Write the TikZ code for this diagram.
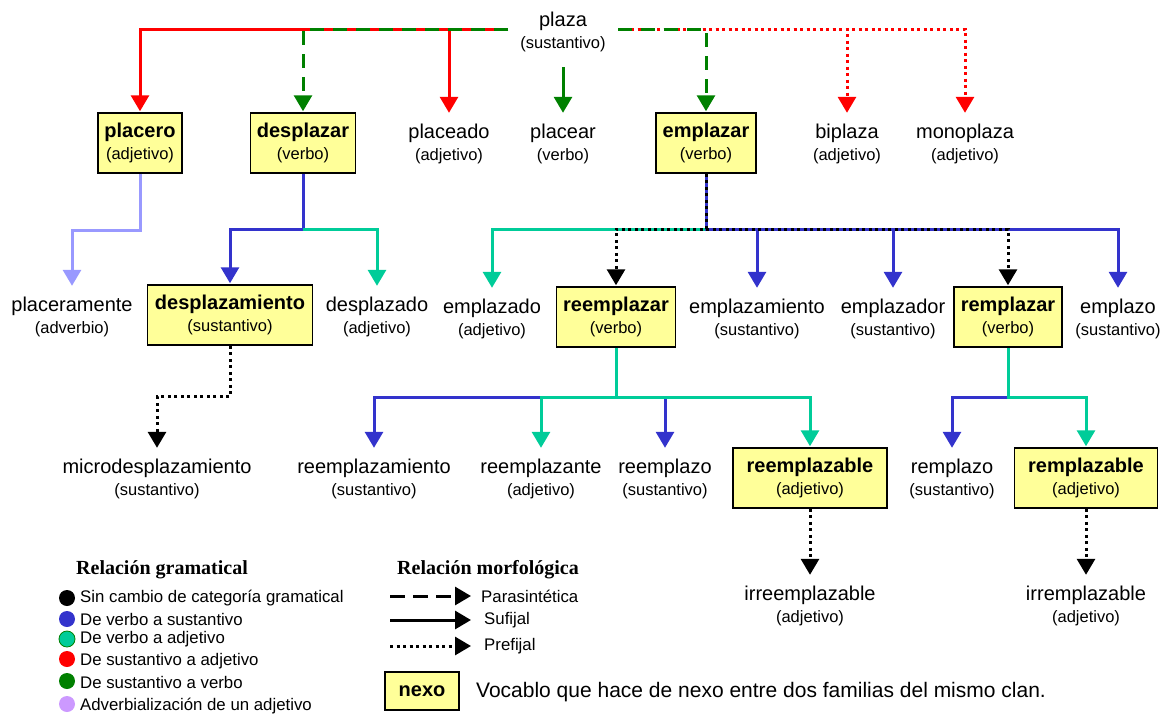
\documentclass[tikz,border=0pt]{standalone}
\usepackage{fontspec}
\setmainfont{Liberation Sans}
\newfontfamily\titlefont{Liberation Serif}
\usetikzlibrary{arrows.meta}
\definecolor{rojo}{HTML}{FF0000}
\definecolor{verde}{HTML}{008000}
\definecolor{azul}{HTML}{3333CC}
\definecolor{turq}{HTML}{00CC99}
\definecolor{lila}{HTML}{9999FF}
\definecolor{lilapunto}{HTML}{CC99FF}
\definecolor{amarillo}{HTML}{FFFF99}
\newcommand{\cat}[1]{{\normalfont\fontsize{16.5}{22}\selectfont(#1)}}
\tikzset{
  palabra/.style={align=center, font=\fontsize{20}{22}\selectfont, minimum height=60pt, inner xsep=6pt, inner ysep=2pt},
  nexo/.style={palabra, draw, line width=1.5pt, fill=amarillo, font=\fontsize{20}{22}\selectfont\bfseries},
  flecha/.style={line width=3pt, -{Triangle[width=18pt,length=16pt]}, shorten >=1pt},
  sufijal/.style={flecha},
  parasint/.style={flecha, dash pattern=on 14pt off 9pt},
  prefijal/.style={flecha, dash pattern=on 3pt off 3.5pt},
  titulo/.style={font=\titlefont\bfseries\fontsize{20}{24}\selectfont},
  leyenda/.style={anchor=west, inner xsep=0pt, font=\fontsize{16.8}{20}\selectfont},
  punto/.style={circle, minimum size=16pt, inner sep=0pt}
}
\begin{document}
\begin{tikzpicture}[x=1pt, y=-1pt]
\useasboundingbox (0,0) rectangle (1164,715);
\node [palabra] (plaza) at (563,32) {plaza\\\cat{sustantivo}};
\coordinate (izq) at (508,29);
\coordinate (der) at (618,29);

\node [nexo, minimum width=84pt] (placero) at (140,143) {placero\\\cat{adjetivo}};
\node [nexo, minimum width=105pt] (desplazar) at (303,143) {desplazar\\\cat{verbo}};
\node [palabra] (placeado) at (449,144) {placeado\\\cat{adjetivo}};
\node [palabra] (placear) at (563,144) {placear\\\cat{verbo}};
\node [nexo, minimum width=100pt] (emplazar) at (706,143) {emplazar\\\cat{verbo}};
\node [palabra] (biplaza) at (847,144) {biplaza\\\cat{adjetivo}};
\node [palabra] (monoplaza) at (965,144) {monoplaza\\\cat{adjetivo}};

\node [palabra] (placeramente) at (72,317) {placeramente\\\cat{adverbio}};
\node [nexo, minimum width=165pt] (desplazamiento) at (230,315) {desplazamiento\\\cat{sustantivo}};
\node [palabra] (desplazado) at (377,317) {desplazado\\\cat{adjetivo}};
\node [palabra] (emplazado) at (492,319) {emplazado\\\cat{adjetivo}};
\node [nexo, minimum width=119pt] (reemplazar) at (616,317) {reemplazar\\\cat{verbo}};
\node [palabra] (emplazamiento) at (757,319) {emplazamiento\\\cat{sustantivo}};
\node [palabra] (emplazador) at (893,319) {emplazador\\\cat{sustantivo}};
\node [nexo, minimum width=108pt] (remplazar) at (1008,317) {remplazar\\\cat{verbo}};
\node [palabra] (emplazo) at (1118,319) {emplazo\\\cat{sustantivo}};
\coordinate (desJ) at (303,229);
\coordinate (emJ) at (706,229);

\node [palabra] (microdesplazamiento) at (157,479) {microdesplazamiento\\\cat{sustantivo}};
\node [palabra] (reemplazamiento) at (374,479) {reemplazamiento\\\cat{sustantivo}};
\node [palabra] (reemplazante) at (541,479) {reemplazante\\\cat{adjetivo}};
\node [palabra] (reemplazo) at (665,479) {reemplazo\\\cat{sustantivo}};
\node [nexo, minimum width=154pt] (reemplazable) at (810,478) {reemplazable\\\cat{adjetivo}};
\node [palabra] (remplazo) at (952,479) {remplazo\\\cat{sustantivo}};
\node [nexo, minimum width=143pt] (remplazable) at (1086,478) {remplazable\\\cat{adjetivo}};
\coordinate (reJ) at (616,397);
\coordinate (rmJ) at (1008,397);

\node [palabra] (irreemplazable) at (810,606) {irreemplazable\\\cat{adjetivo}};
\node [palabra] (irremplazable) at (1086,606) {irremplazable\\\cat{adjetivo}};

\draw [sufijal, rojo] (izq) -| (placero.north);
\draw [sufijal, rojo] (izq) -| (placeado.north);
\draw [parasint, verde] (izq) -| (desplazar.north);
\draw [sufijal, verde, shorten <=5pt] (plaza.south) -- (placear.north);
\draw [prefijal, rojo] (der) -| (biplaza.north);
\draw [prefijal, rojo] (der) -| (monoplaza.north);
\draw [parasint, verde] (der) -| (emplazar.north);

\draw [sufijal, lila] (placero.south) -- ++(0,57) -| (placeramente.north);
\draw [sufijal, azul] (desplazar.south) -- (desJ) -| (desplazamiento.north);
\draw [sufijal, turq] (desJ) -| (desplazado.north);
\draw [sufijal, turq] (emJ) -| (emplazado.north);
\draw [sufijal, azul] (emplazar.south) -- (emJ) -| (emplazamiento.north);
\draw [sufijal, azul] (emJ) -| (emplazador.north);
\draw [sufijal, azul] (emJ) -| (emplazo.north);
\draw [prefijal] (emplazar.south) -- (emJ) -| (reemplazar.north);
\draw [prefijal] (emJ) -| (remplazar.north);

\draw [prefijal] (desplazamiento.south) -- ++(0,51) -| (microdesplazamiento.north);
\draw [sufijal, azul] (reJ) -| (reemplazamiento.north);
\draw [sufijal, azul] (reJ) -| (reemplazo.north);
\draw [sufijal, turq] (reemplazar.south) -- (reJ) -| (reemplazante.north);
\draw [sufijal, turq] (reJ) -| (reemplazable.north);
\draw [sufijal, azul] (rmJ) -| (remplazo.north);
\draw [sufijal, turq] (remplazar.south) -- (rmJ) -| (remplazable.north);

\draw [prefijal] (reemplazable) -- (irreemplazable);
\draw [prefijal] (remplazable) -- (irremplazable);

\node [titulo] (gramatical) at (162,570) {Relación gramatical};
\node [punto, fill=black] (p1) at (67,598) {};
\node [leyenda] (t1) at (80,598) {Sin cambio de categoría gramatical};
\node [punto, fill=azul] (p2) at (67,619) {};
\node [leyenda] (t2) at (80,619) {De verbo a sustantivo};
\node [punto, fill=turq, draw=verde, line width=0.8pt] (p3) at (67,639) {};
\node [leyenda] (t3) at (80,639) {De verbo a adjetivo};
\node [punto, fill=rojo] (p4) at (67,659) {};
\node [leyenda] (t4) at (80,661) {De sustantivo a adjetivo};
\node [punto, fill=verde] (p5) at (67,681) {};
\node [leyenda] (t5) at (80,682) {De sustantivo a verbo};
\node [punto, fill=lilapunto] (p6) at (67,704) {};
\node [leyenda] (t6) at (80,706) {Adverbialización de un adjetivo};

\node [titulo] (morfologica) at (488,570) {Relación morfológica};
\coordinate (m1) at (390,596);
\coordinate (m2) at (390,620);
\coordinate (m3) at (390,646);
\node [leyenda] (parasintetica) at (481,596) {Parasintética};
\node [leyenda] (sufijo) at (484,620) {Sufijal};
\node [leyenda] (prefijo) at (484,646) {Prefijal};
\draw [parasint, dash pattern=on 15pt off 8pt, shorten >=10pt] (m1) -- (parasintetica.west);
\draw [sufijal, shorten >=13pt] (m2) -- (sufijo.west);
\draw [prefijal, shorten >=13pt] (m3) -- (prefijo.west);

\node [nexo, minimum width=74pt, minimum height=38pt] (nexo) at (422,691) {nexo};
\node [anchor=west, inner xsep=0pt, font=\fontsize{21}{24}\selectfont] (clan) at (476,692) {Vocablo que hace de nexo entre dos familias del mismo clan.};
\end{tikzpicture}
\end{document}
